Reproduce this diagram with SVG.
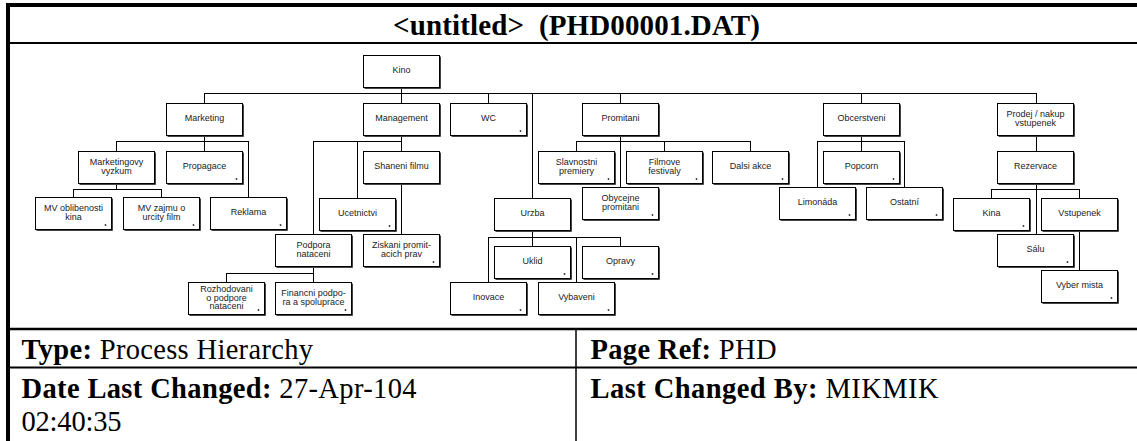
<svg xmlns="http://www.w3.org/2000/svg" width="1137" height="441" viewBox="0 0 1137 441">
<style>
.frame{stroke:#000;fill:none}
.box rect{fill:#fff;stroke:#000;stroke-width:1}
.box polyline{fill:none;stroke:#444;stroke-width:1}
.box text{font-family:"Liberation Sans",Arial,sans-serif;font-size:9px;fill:#222;text-anchor:middle}
.box circle{fill:#333}
#connectors path{stroke:#000;stroke-width:1;fill:none}
.tt{font-family:"Liberation Serif","Times New Roman",serif;font-size:28.5px;fill:#000}
.b{font-weight:bold}
</style>
<rect width="1137" height="441" fill="#fff"/>
<g id="frame">
<line class="frame" x1="8" y1="3" x2="8" y2="441" stroke-width="4"/>
<line class="frame" x1="6" y1="5" x2="1137" y2="5" stroke-width="4"/>
<line class="frame" x1="6" y1="43" x2="1137" y2="43" stroke-width="2"/>
<line class="frame" x1="6" y1="329" x2="1137" y2="329" stroke-width="2.5"/>
<line class="frame" x1="6" y1="367.5" x2="1137" y2="367.5" stroke-width="2"/>
<line class="frame" x1="576" y1="329" x2="576" y2="441" stroke-width="1.5"/>
</g>
<text class="tt b" x="576.5" y="35" text-anchor="middle" xml:space="preserve" style="font-size:29px" textLength="367">&lt;untitled&gt;  (PHD00001.DAT)</text>
<text class="tt" x="21.5" y="359" textLength="291.5"><tspan class="b">Type:</tspan> Process Hierarchy</text>
<text class="tt" x="590.5" y="359" textLength="186"><tspan class="b">Page Ref:</tspan> PHD</text>
<text class="tt" x="21.5" y="398" textLength="395"><tspan class="b">Date Last Changed:</tspan> 27-Apr-104</text>
<text class="tt" x="21.5" y="431" textLength="100">02:40:35</text>
<text class="tt" x="590.5" y="398" textLength="348"><tspan class="b">Last Changed By:</tspan> MIKMIK</text>

<g id="connectors">
<path d="M401.5 87V103M204.5 93.5H1036.5M204.5 93V103M488.5 93V103M620.5 93V103M861.5 93V103M1036.5 93V103M532.5 93V198"/>
<path d="M204.5 135V151M116.5 141.5H248.5M116.5 141V151M248.5 141V197"/>
<path d="M116.5 183V189.5M73.5 189.5H161.5M73.5 189V197M161.5 189V197"/>
<path d="M401.5 135V151M313.5 141.5H401.5M313.5 141V234M357.5 141V198"/>
<path d="M401.5 183V234"/>
<path d="M313.5 266V282M226.5 273.5H313.5M226.5 273V282"/>
<path d="M532.5 230V246M488.5 237.5H620.5M488.5 237V282M576.5 237V282M620.5 237V246"/>
<path d="M620.5 135V187M576.5 141.5H750.5M576.5 141V151M664.5 141V151M750.5 141V151"/>
<path d="M861.5 135V151M817.5 141.5H904.5M817.5 141V187M904.5 141V187"/>
<path d="M1036.5 135V151M1036.5 183V234M991.5 189.5H1079.5M991.5 189V198M1079.5 189V198M1079.5 230V270"/>
</g>

<g id="n-kino" class="box" transform="translate(363,55)"><rect x="0.5" y="0.5" width="76" height="32"/><polyline points="77.5,1.5 77.5,33.5 1.5,33.5"/><text x="38.5" y="18">Kino</text></g>
<g id="n-marketing" class="box" transform="translate(166,103)"><rect x="0.5" y="0.5" width="76" height="32"/><polyline points="77.5,1.5 77.5,33.5 1.5,33.5"/><text x="38.5" y="18">Marketing</text></g>
<g id="n-management" class="box" transform="translate(363,103)"><rect x="0.5" y="0.5" width="76" height="32"/><polyline points="77.5,1.5 77.5,33.5 1.5,33.5"/><text x="38.5" y="18">Management</text></g>
<g id="n-wc" class="box" transform="translate(450,103)"><rect x="0.5" y="0.5" width="76" height="32"/><polyline points="77.5,1.5 77.5,33.5 1.5,33.5"/><text x="38.5" y="18">WC</text><circle cx="70.5" cy="28" r="0.9"/></g>
<g id="n-promitani" class="box" transform="translate(582,103)"><rect x="0.5" y="0.5" width="76" height="32"/><polyline points="77.5,1.5 77.5,33.5 1.5,33.5"/><text x="38.5" y="18">Promitani</text></g>
<g id="n-obcerstveni" class="box" transform="translate(823,103)"><rect x="0.5" y="0.5" width="76" height="32"/><polyline points="77.5,1.5 77.5,33.5 1.5,33.5"/><text x="38.5" y="18">Obcerstveni</text></g>
<g id="n-prodej" class="box" transform="translate(997,103)"><rect x="0.5" y="0.5" width="76" height="32"/><polyline points="77.5,1.5 77.5,33.5 1.5,33.5"/><text x="38.5" y="14">Prodej / nakup</text><text x="38.5" y="22.5">vstupenek</text></g>

<g id="n-mvyzkum" class="box" transform="translate(78,151)"><rect x="0.5" y="0.5" width="76" height="32"/><polyline points="77.5,1.5 77.5,33.5 1.5,33.5"/><text x="38.5" y="14">Marketingovy</text><text x="38.5" y="22.5">vyzkum</text></g>
<g id="n-propagace" class="box" transform="translate(166,151)"><rect x="0.5" y="0.5" width="76" height="32"/><polyline points="77.5,1.5 77.5,33.5 1.5,33.5"/><text x="38.5" y="18">Propagace</text><circle cx="70.5" cy="28" r="0.9"/></g>
<g id="n-reklama" class="box" transform="translate(210,197)"><rect x="0.5" y="0.5" width="76" height="32"/><polyline points="77.5,1.5 77.5,33.5 1.5,33.5"/><text x="38.5" y="18">Reklama</text><circle cx="70.5" cy="28" r="0.9"/></g>
<g id="n-mvobl" class="box" transform="translate(35,197)"><rect x="0.5" y="0.5" width="76" height="32"/><polyline points="77.5,1.5 77.5,33.5 1.5,33.5"/><text x="38.5" y="14">MV oblibenosti</text><text x="38.5" y="22.5">kina</text><circle cx="70.5" cy="28" r="0.9"/></g>
<g id="n-mvzajmu" class="box" transform="translate(123,197)"><rect x="0.5" y="0.5" width="76" height="32"/><polyline points="77.5,1.5 77.5,33.5 1.5,33.5"/><text x="38.5" y="14">MV zajmu o</text><text x="38.5" y="22.5">urcity film</text><circle cx="70.5" cy="28" r="0.9"/></g>

<g id="n-shaneni" class="box" transform="translate(363,151)"><rect x="0.5" y="0.5" width="76" height="32"/><polyline points="77.5,1.5 77.5,33.5 1.5,33.5"/><text x="38.5" y="18">Shaneni filmu</text></g>
<g id="n-ucetnictvi" class="box" transform="translate(319,198)"><rect x="0.5" y="0.5" width="76" height="32"/><polyline points="77.5,1.5 77.5,33.5 1.5,33.5"/><text x="38.5" y="18">Ucetnictvi</text><circle cx="70.5" cy="28" r="0.9"/></g>
<g id="n-podpora" class="box" transform="translate(275,234)"><rect x="0.5" y="0.5" width="76" height="32"/><polyline points="77.5,1.5 77.5,33.5 1.5,33.5"/><text x="38.5" y="14">Podpora</text><text x="38.5" y="22.5">nataceni</text></g>
<g id="n-ziskani" class="box" transform="translate(363,234)"><rect x="0.5" y="0.5" width="76" height="32"/><polyline points="77.5,1.5 77.5,33.5 1.5,33.5"/><text x="38.5" y="14">Ziskani promit-</text><text x="38.5" y="22.5">acich prav</text><circle cx="70.5" cy="28" r="0.9"/></g>
<g id="n-rozhodovani" class="box" transform="translate(188,282)"><rect x="0.5" y="0.5" width="76" height="32"/><polyline points="77.5,1.5 77.5,33.5 1.5,33.5"/><text x="38.5" y="10">Rozhodovani</text><text x="38.5" y="18.5">o podpore</text><text x="38.5" y="27">nataceni</text><circle cx="70.5" cy="28" r="0.9"/></g>
<g id="n-financni" class="box" transform="translate(275,282)"><rect x="0.5" y="0.5" width="76" height="32"/><polyline points="77.5,1.5 77.5,33.5 1.5,33.5"/><text x="38.5" y="14">Financni podpo-</text><text x="38.5" y="22.5">ra a spoluprace</text><circle cx="70.5" cy="28" r="0.9"/></g>

<g id="n-urzba" class="box" transform="translate(494,198)"><rect x="0.5" y="0.5" width="76" height="32"/><polyline points="77.5,1.5 77.5,33.5 1.5,33.5"/><text x="38.5" y="18">Urzba</text></g>
<g id="n-uklid" class="box" transform="translate(494,246)"><rect x="0.5" y="0.5" width="76" height="32"/><polyline points="77.5,1.5 77.5,33.5 1.5,33.5"/><text x="38.5" y="18">Uklid</text><circle cx="70.5" cy="28" r="0.9"/></g>
<g id="n-opravy" class="box" transform="translate(582,246)"><rect x="0.5" y="0.5" width="76" height="32"/><polyline points="77.5,1.5 77.5,33.5 1.5,33.5"/><text x="38.5" y="18">Opravy</text><circle cx="70.5" cy="28" r="0.9"/></g>
<g id="n-inovace" class="box" transform="translate(450,282)"><rect x="0.5" y="0.5" width="76" height="32"/><polyline points="77.5,1.5 77.5,33.5 1.5,33.5"/><text x="38.5" y="18">Inovace</text><circle cx="70.5" cy="28" r="0.9"/></g>
<g id="n-vybaveni" class="box" transform="translate(538,282)"><rect x="0.5" y="0.5" width="76" height="32"/><polyline points="77.5,1.5 77.5,33.5 1.5,33.5"/><text x="38.5" y="18">Vybaveni</text><circle cx="70.5" cy="28" r="0.9"/></g>

<g id="n-slavnostni" class="box" transform="translate(538,151)"><rect x="0.5" y="0.5" width="76" height="32"/><polyline points="77.5,1.5 77.5,33.5 1.5,33.5"/><text x="38.5" y="14">Slavnostni</text><text x="38.5" y="22.5">premiery</text><circle cx="70.5" cy="28" r="0.9"/></g>
<g id="n-obycejne" class="box" transform="translate(582,187)"><rect x="0.5" y="0.5" width="76" height="32"/><polyline points="77.5,1.5 77.5,33.5 1.5,33.5"/><text x="38.5" y="14">Obycejne</text><text x="38.5" y="22.5">promitani</text><circle cx="70.5" cy="28" r="0.9"/></g>
<g id="n-filmove" class="box" transform="translate(626,151)"><rect x="0.5" y="0.5" width="76" height="32"/><polyline points="77.5,1.5 77.5,33.5 1.5,33.5"/><text x="38.5" y="14">Filmove</text><text x="38.5" y="22.5">festivaly</text><circle cx="70.5" cy="28" r="0.9"/></g>
<g id="n-dalsi" class="box" transform="translate(712,151)"><rect x="0.5" y="0.5" width="76" height="32"/><polyline points="77.5,1.5 77.5,33.5 1.5,33.5"/><text x="38.5" y="18">Dalsi akce</text><circle cx="70.5" cy="28" r="0.9"/></g>

<g id="n-popcorn" class="box" transform="translate(823,151)"><rect x="0.5" y="0.5" width="76" height="32"/><polyline points="77.5,1.5 77.5,33.5 1.5,33.5"/><text x="38.5" y="18">Popcorn</text><circle cx="70.5" cy="28" r="0.9"/></g>
<g id="n-limonada" class="box" transform="translate(779,187)"><rect x="0.5" y="0.5" width="76" height="32"/><polyline points="77.5,1.5 77.5,33.5 1.5,33.5"/><text x="38.5" y="18">Limonáda</text><circle cx="70.5" cy="28" r="0.9"/></g>
<g id="n-ostatni" class="box" transform="translate(866,187)"><rect x="0.5" y="0.5" width="76" height="32"/><polyline points="77.5,1.5 77.5,33.5 1.5,33.5"/><text x="38.5" y="18">Ostatní</text><circle cx="70.5" cy="28" r="0.9"/></g>

<g id="n-rezervace" class="box" transform="translate(997,151)"><rect x="0.5" y="0.5" width="76" height="32"/><polyline points="77.5,1.5 77.5,33.5 1.5,33.5"/><text x="38.5" y="18">Rezervace</text></g>
<g id="n-kina" class="box" transform="translate(953,198)"><rect x="0.5" y="0.5" width="76" height="32"/><polyline points="77.5,1.5 77.5,33.5 1.5,33.5"/><text x="38.5" y="18">Kina</text><circle cx="70.5" cy="28" r="0.9"/></g>
<g id="n-vstupenek" class="box" transform="translate(1041,198)"><rect x="0.5" y="0.5" width="76" height="32"/><polyline points="77.5,1.5 77.5,33.5 1.5,33.5"/><text x="38.5" y="18">Vstupenek</text></g>
<g id="n-salu" class="box" transform="translate(997,234)"><rect x="0.5" y="0.5" width="76" height="32"/><polyline points="77.5,1.5 77.5,33.5 1.5,33.5"/><text x="38.5" y="18">Sálu</text><circle cx="70.5" cy="28" r="0.9"/></g>
<g id="n-vyber" class="box" transform="translate(1041,270)"><rect x="0.5" y="0.5" width="76" height="32"/><polyline points="77.5,1.5 77.5,33.5 1.5,33.5"/><text x="38.5" y="18">Vyber mista</text><circle cx="70.5" cy="28" r="0.9"/></g>
</svg>
